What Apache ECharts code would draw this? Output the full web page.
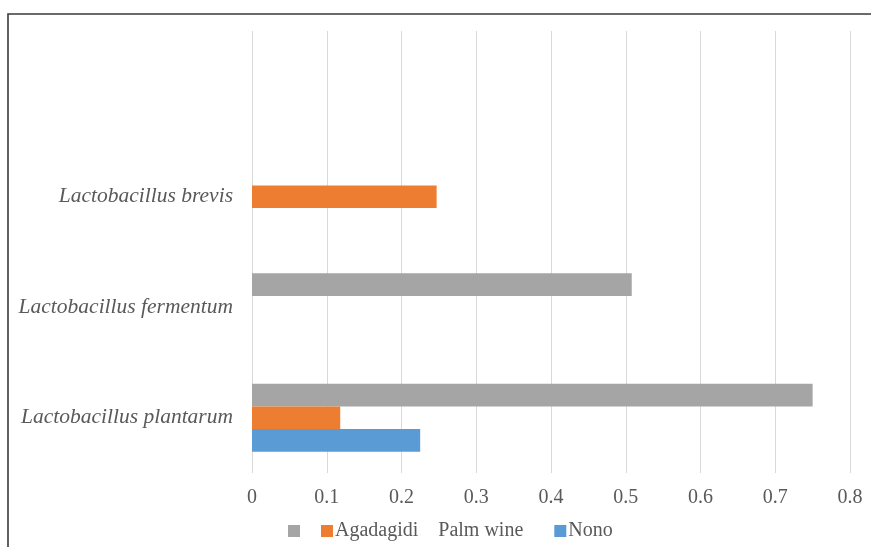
<!DOCTYPE html>
<html>
<head>
<meta charset="utf-8">
<script src="https://cdn.jsdelivr.net/npm/echarts@6/dist/echarts.min.js"></script>
<style>
html,body{margin:0;padding:0;background:#fff;}
#c{width:871px;height:547px;}
</style>
</head>
<body>
<div id="c"></div>
<script>
var categories = ['Lactobacillus plantarum', 'Lactobacillus fermentum', 'Lactobacillus brevis', ''];
var nono = [0.225, null, null, null];
var agadagidi = [0.118, null, 0.247, null];
var palmWine = [0.75, 0.508, null, null];
var xTicks = { min: 0, max: 0.8, interval: 0.1 };

var font = 'Liberation Serif';
var chart = echarts.init(document.getElementById('c'));
chart.setOption({
  animation: false,
  backgroundColor: '#fff',
  graphic: [{
    type: 'rect',
    shape: { x: 8, y: 14, width: 1000, height: 1000 },
    style: { fill: null, stroke: '#3a3a3a', lineWidth: 1.6 },
    silent: true
  }],
  grid: { left: 252, right: 21, top: 31, bottom: 74 },
  legend: {
    left: 283,
    top: 516,
    itemWidth: 12,
    itemHeight: 12,
    itemGap: 21,
    icon: 'rect',
    data: ['Palm wine', 'Agadagidi', 'Nono'],
    formatter: function (n) {
      if (n === 'Palm wine') return '';
      if (n === 'Agadagidi') return 'Agadagidi    Palm wine  ';
      return n;
    },
    textStyle: { fontFamily: font, fontSize: 20, color: '#595959', padding: [0, 0, 0, -3] }
  },
  xAxis: {
    type: 'value',
    min: xTicks.min, max: xTicks.max, interval: xTicks.interval,
    axisLine: { show: false },
    axisTick: { show: false },
    splitLine: { lineStyle: { color: '#d9d9d9', width: 1 } },
    axisLabel: { fontFamily: font, fontSize: 20, color: '#595959', margin: 15,
      formatter: function (v) { return String(Math.round(v * 10) / 10); } }
  },
  yAxis: {
    type: 'category',
    data: categories,
    axisLine: { show: false },
    axisTick: { show: false },
    axisLabel: { fontFamily: font, fontSize: 21.5, fontStyle: 'italic', color: '#595959', margin: 19 }
  },
  series: [
    { name: 'Palm wine', type: 'bar', data: palmWine, barWidth: 22.6, barGap: '0%', itemStyle: { color: '#a5a5a5' } },
    { name: 'Agadagidi', type: 'bar', data: agadagidi, barWidth: 22.6, barGap: '0%', itemStyle: { color: '#ed7d31' } },
    { name: 'Nono', type: 'bar', data: nono, barWidth: 22.6, barGap: '0%', itemStyle: { color: '#5b9bd5' } }
  ]
});
</script>
</body>
</html>
